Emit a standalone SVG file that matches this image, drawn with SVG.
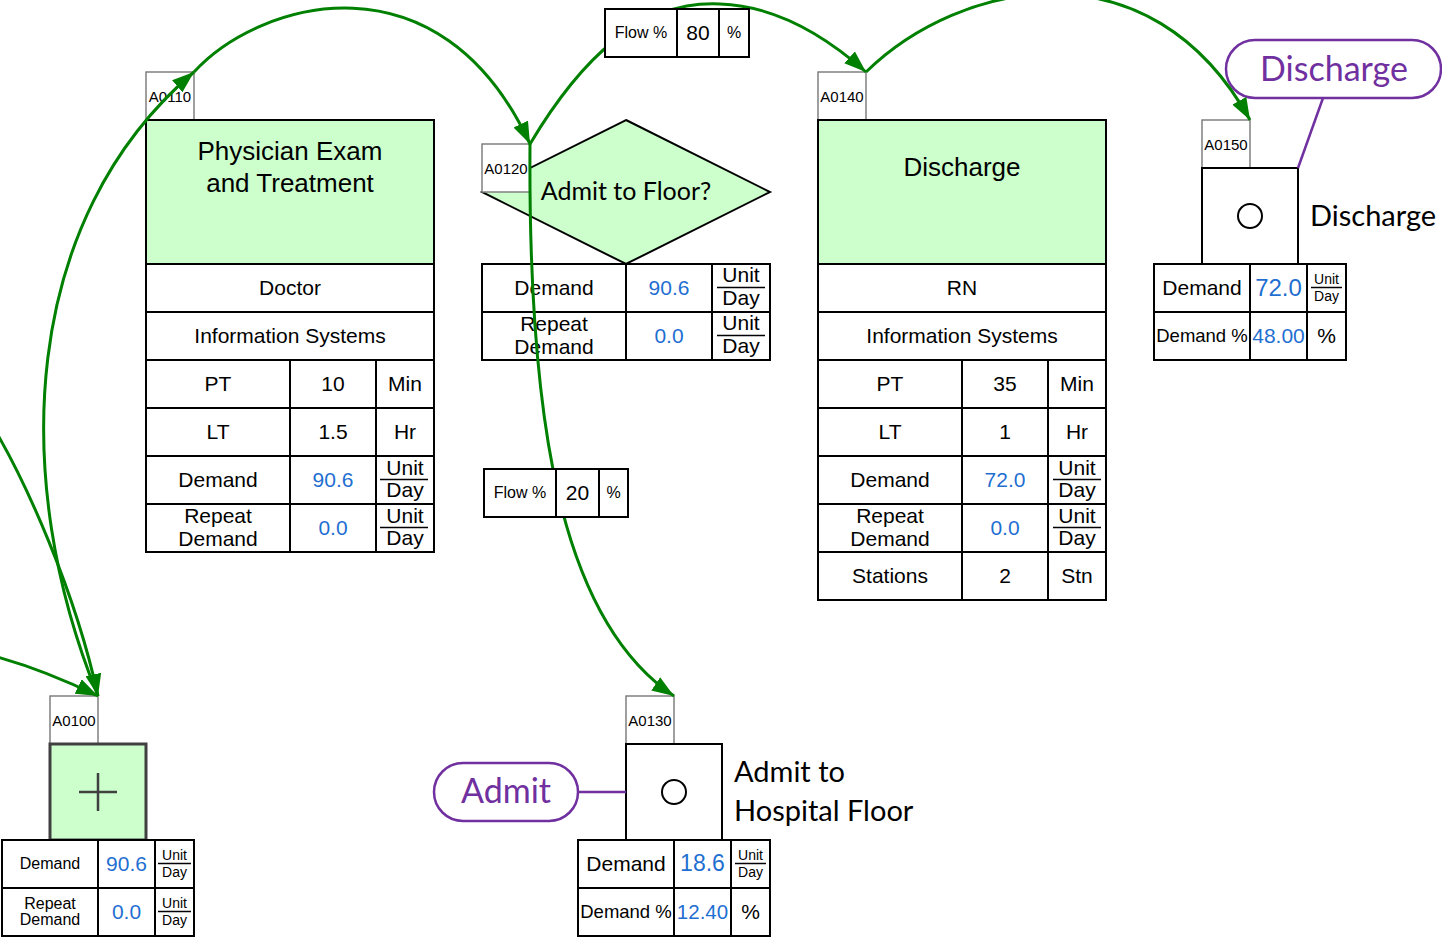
<svg xmlns="http://www.w3.org/2000/svg" width="1442" height="937" viewBox="0 0 1442 937">
<defs>
<style>
.idbox{fill:#fff;stroke:#808080;stroke-width:1.5}
.id{font-family:"Liberation Sans",Arial,sans-serif;font-size:15px;fill:#000;text-anchor:middle;dominant-baseline:central}
.green{fill:#ccffcc;stroke:#000;stroke-width:2}
.box{fill:#fff;stroke:#000;stroke-width:2}
.ln{stroke:#000;stroke-width:2;fill:none}
.t{font-family:"Liberation Sans",Arial,sans-serif;font-size:21px;fill:#000;text-anchor:middle;dominant-baseline:central}
.tb{font-family:"Liberation Sans",Arial,sans-serif;font-size:21px;fill:#000;text-anchor:middle}
.v{fill:#1f6fd1}
.big{font-family:"Liberation Sans",Arial,sans-serif;font-size:26px;fill:#000;text-anchor:middle}
.cal{font-family:Lato,"Open Sans",sans-serif;fill:#000}
.frac{stroke:#000;stroke-width:1.5}
.conn{fill:none;stroke:#008000;stroke-width:3;marker-end:url(#arr)}
.pill{fill:#fff;stroke:#7030a0;stroke-width:2.5}
.pl{stroke:#7030a0;stroke-width:2.5;fill:none}
.s14{font-size:14px}
.s16{font-size:16px}
.s18{font-size:18.5px}
.s20{font-size:20.5px}
.s23{font-size:23px}
.s24{font-size:24px}
</style>
<marker id="arr" markerUnits="userSpaceOnUse" markerWidth="24" markerHeight="16" refX="22" refY="8" orient="auto">
<path d="M0,0 L22,8 L0,16 Z" fill="#008000"/>
</marker>
</defs>
<rect width="1442" height="937" fill="#fff"/>

<g id="A0110">
<rect class="idbox" x="146" y="72" width="48" height="48"/>
<text class="id" x="170" y="96">A0110</text>
<rect class="green" x="146" y="120" width="288" height="144"/>
<text class="big" x="290" y="160">Physician Exam</text>
<text class="big" x="290" y="192">and Treatment</text>
<rect class="box" x="146" y="264" width="288" height="288"/>
<path class="ln" d="M146,312H434M146,360H434M146,408H434M146,456H434M146,504H434M290,360V552M376,360V552"/>
<text class="t" x="290" y="287">Doctor</text>
<text class="t" x="290" y="335">Information Systems</text>
<text class="t" x="218" y="383">PT</text><text class="t" x="333" y="383">10</text><text class="t" x="405" y="383">Min</text>
<text class="t" x="218" y="431">LT</text><text class="t" x="333" y="431">1.5</text><text class="t" x="405" y="431">Hr</text>
<text class="t" x="218" y="479">Demand</text><text class="t v" x="333" y="479">90.6</text>
<text class="tb" x="405" y="475">Unit</text><path class="frac" d="M380,479.5H428"/><text class="tb" x="405" y="497">Day</text>
<text class="t" x="218" y="515">Repeat</text><text class="t" x="218" y="538">Demand</text><text class="t v" x="333" y="527">0.0</text>
<text class="tb" x="405" y="523">Unit</text><path class="frac" d="M380,527.5H428"/><text class="tb" x="405" y="545">Day</text>
</g>

<g id="A0120">
<polygon class="green" points="626,120 770,192 626,264 482,192"/>
<rect class="idbox" x="482" y="144" width="48" height="48"/>
<text class="id" x="506" y="168">A0120</text>
<text class="cal" x="626" y="200" font-size="25" text-anchor="middle">Admit to Floor?</text>
<rect class="box" x="482" y="264" width="288" height="96"/>
<path class="ln" d="M482,312H770M626,264V360M712,264V360"/>
<text class="t" x="554" y="287">Demand</text><text class="t v" x="669" y="287">90.6</text>
<text class="tb" x="741" y="282">Unit</text><path class="frac" d="M717,287.5H765"/><text class="tb" x="741" y="305">Day</text>
<text class="t" x="554" y="323">Repeat</text><text class="t" x="554" y="346">Demand</text><text class="t v" x="669" y="335">0.0</text>
<text class="tb" x="741" y="330">Unit</text><path class="frac" d="M717,335.5H765"/><text class="tb" x="741" y="353">Day</text>
</g>

<g id="A0140">
<rect class="idbox" x="818" y="72" width="48" height="48"/>
<text class="id" x="842" y="96">A0140</text>
<rect class="green" x="818" y="120" width="288" height="144"/>
<text class="big" x="962" y="176">Discharge</text>
<rect class="box" x="818" y="264" width="288" height="336"/>
<path class="ln" d="M818,312H1106M818,360H1106M818,408H1106M818,456H1106M818,504H1106M818,552H1106M962,360V600M1048,360V600"/>
<text class="t" x="962" y="287">RN</text>
<text class="t" x="962" y="335">Information Systems</text>
<text class="t" x="890" y="383">PT</text><text class="t" x="1005" y="383">35</text><text class="t" x="1077" y="383">Min</text>
<text class="t" x="890" y="431">LT</text><text class="t" x="1005" y="431">1</text><text class="t" x="1077" y="431">Hr</text>
<text class="t" x="890" y="479">Demand</text><text class="t v" x="1005" y="479">72.0</text>
<text class="tb" x="1077" y="475">Unit</text><path class="frac" d="M1053,479.5H1101"/><text class="tb" x="1077" y="497">Day</text>
<text class="t" x="890" y="515">Repeat</text><text class="t" x="890" y="538">Demand</text><text class="t v" x="1005" y="527">0.0</text>
<text class="tb" x="1077" y="523">Unit</text><path class="frac" d="M1053,527.5H1101"/><text class="tb" x="1077" y="545">Day</text>
<text class="t" x="890" y="575">Stations</text><text class="t" x="1005" y="575">2</text><text class="t" x="1077" y="575">Stn</text>
</g>

<g id="A0150">
<rect class="idbox" x="1202" y="120" width="48" height="48"/>
<text class="id" x="1226" y="144">A0150</text>
<rect class="box" x="1202" y="168" width="96" height="96"/>
<circle cx="1250" cy="216" r="12" fill="none" stroke="#000" stroke-width="2"/>
<text class="cal" x="1310" y="226" font-size="29">Discharge</text>
<rect class="box" x="1154" y="264" width="192" height="96"/>
<path class="ln" d="M1154,312H1346M1250,264V360M1307,264V360"/>
<text class="t" x="1202" y="287">Demand</text><text class="t v s24" x="1278.5" y="287">72.0</text>
<text class="tb s14" x="1326.5" y="284">Unit</text><path class="frac" d="M1311,287.5H1342"/><text class="tb s14" x="1326.5" y="301">Day</text>
<text class="t s18" x="1202" y="335">Demand %</text><text class="t v" x="1278.5" y="335">48.00</text><text class="t" x="1326.5" y="335">%</text>
</g>

<g id="A0100">
<rect class="idbox" x="50" y="696" width="48" height="48"/>
<text class="id" x="74" y="720">A0100</text>
<rect x="50" y="744" width="96" height="96" fill="#ccffcc" stroke="#404040" stroke-width="3"/>
<path d="M79,792H117M98,773V811" stroke="#404040" stroke-width="2.5"/>
<rect class="box" x="2" y="840" width="192" height="96"/>
<path class="ln" d="M2,888H194M98,840V936M155,840V936"/>
<text class="t s16" x="50" y="863">Demand</text><text class="t v" x="126.5" y="863">90.6</text>
<text class="tb s14" x="174.5" y="860">Unit</text><path class="frac" d="M158,863.5H191"/><text class="tb s14" x="174.5" y="877">Day</text>
<text class="t s16" x="50" y="903">Repeat</text><text class="t s16" x="50" y="919">Demand</text><text class="t v" x="126.5" y="911">0.0</text>
<text class="tb s14" x="174.5" y="908">Unit</text><path class="frac" d="M158,911.5H191"/><text class="tb s14" x="174.5" y="925">Day</text>
</g>

<g id="A0130">
<rect class="idbox" x="626" y="696" width="48" height="48"/>
<text class="id" x="650" y="720">A0130</text>
<rect class="box" x="626" y="744" width="96" height="96"/>
<circle cx="674" cy="792" r="12" fill="none" stroke="#000" stroke-width="2"/>
<text class="cal" x="734" y="782" font-size="29">Admit to</text>
<text class="cal" x="734" y="821" font-size="29">Hospital Floor</text>
<rect class="box" x="578" y="840" width="192" height="96"/>
<path class="ln" d="M578,888H770M674,840V936M731,840V936"/>
<text class="t" x="626" y="863">Demand</text><text class="t v s23" x="702.5" y="863">18.6</text>
<text class="tb s14" x="750.5" y="860">Unit</text><path class="frac" d="M735,863.5H766"/><text class="tb s14" x="750.5" y="877">Day</text>
<text class="t s18" x="626" y="911">Demand %</text><text class="t v s20" x="702.5" y="911">12.40</text><text class="t" x="750.5" y="911">%</text>
</g>

<g id="callout-admit">
<path class="pl" d="M578,792H626"/>
<rect class="pill" x="434" y="763" width="144" height="58" rx="29"/>
<text class="cal" x="506" y="803" font-size="34" style="fill:#7030a0" text-anchor="middle">Admit</text>
</g>

<g id="callout-discharge">
<path class="pl" d="M1323,98L1298,168"/>
<rect class="pill" x="1226" y="40" width="215" height="58" rx="29"/>
<text class="cal" x="1334" y="81" font-size="34" style="fill:#7030a0" text-anchor="middle">Discharge</text>
</g>

<g id="connectors">
<path class="conn" d="M98,696 C10,480 20,220 194,72"/>
<path class="conn" d="M-8,425 C25,480 75,590 98,696"/>
<path class="conn" d="M-10,655 Q40,668 98,696"/>
<path class="conn" d="M194,72 C260,0 440,-50 530,144"/>
<path class="conn" d="M530,144 C580,60 640,0 720,4 C780,6 830,40 866,72"/>
<path class="conn" d="M530,144 C528,420 560,620 674,696"/>
<path class="conn" d="M866,72 C960,-20 1150,-60 1250,120"/>
</g>

<g id="flow80">
<rect class="box" x="605" y="9" width="144" height="48"/>
<path class="ln" d="M677,9V57M719,9V57"/>
<text class="t s16" x="641" y="32">Flow %</text><text class="t" x="698" y="32">80</text><text class="t s16" x="734" y="32">%</text>
</g>
<g id="flow20">
<rect class="box" x="484" y="469" width="144" height="48"/>
<path class="ln" d="M556,469V517M599,469V517"/>
<text class="t s16" x="520" y="492">Flow %</text><text class="t" x="577.5" y="492">20</text><text class="t s16" x="613.5" y="492">%</text>
</g>
</svg>
